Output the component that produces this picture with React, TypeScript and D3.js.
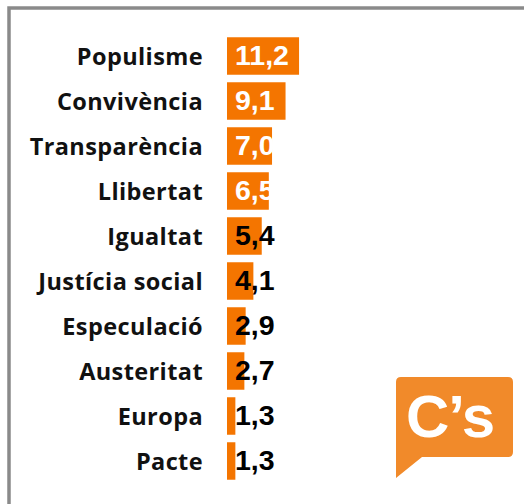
import React from 'react';
import * as d3 from 'd3';

const categories = ['Populisme', 'Convivència', 'Transparència', 'Llibertat', 'Igualtat', 'Justícia social', 'Especulació', 'Austeritat', 'Europa', 'Pacte'];
const values = [11.2, 9.1, 7.0, 6.5, 5.4, 4.1, 2.9, 2.7, 1.3, 1.3];

const W = 524;
const H = 504;
const barColor = '#f47500';
const logoColor = '#f18a2a';

const fmt = (v: number) => v.toFixed(1).replace('.', ',');

const App = () => {
  const y = d3.scaleBand<string>().domain(categories).range([33.5, 483.5]).paddingInner(0.167).paddingOuter(0.0835);
  const x = d3.scaleLinear().domain([0, 12]).range([227, 304.2]);

  return (
    <svg width={W} height={H} style={{ position: 'absolute', left: 0, top: 0 }}>
      <rect x={0} y={0} width={W} height={H} fill="#fff" />
      {/* frame, only top and left edges are in view */}
      <rect x={9} y={8} width={W + 20} height={H + 20} fill="none" stroke="#8a8a8a" strokeWidth={3.5} />
      {categories.map((c, i) => {
        const cy = y(c)! + y.bandwidth() / 2;
        // big bars get white labels (partly lost past the bar end), small ones black
        const light = values[i] > 6;
        return (
          <g key={c}>
            <text x={203} y={cy + 8.5} textAnchor="end" fontFamily="'Open Sans', sans-serif" fontWeight={700} fontSize={23.5} letterSpacing={0.4} fill="#111">{c}</text>
            <rect x={x(0)} y={y(c)} width={x(values[i]) - x(0)} height={y.bandwidth()} fill={barColor} />
            <text x={235} y={cy + 8.5} fontFamily="'Liberation Sans', Arial, sans-serif" fontWeight={700} fontSize={28.5} fill={light ? '#fff' : '#000'}>{fmt(values[i])}</text>
          </g>
        );
      })}
      <g>
        <path d="M401,377 H508 Q513,377 513,382 V452 Q513,457 508,457 H422 L396,478 V382 Q396,377 401,377 Z" fill={logoColor} />
        <text x={406} y={437} fontFamily="'Liberation Sans', Arial, sans-serif" fontWeight={700} fontSize={60} letterSpacing={-1} fill="#fff">C’s</text>
      </g>
    </svg>
  );
};

export default App;
